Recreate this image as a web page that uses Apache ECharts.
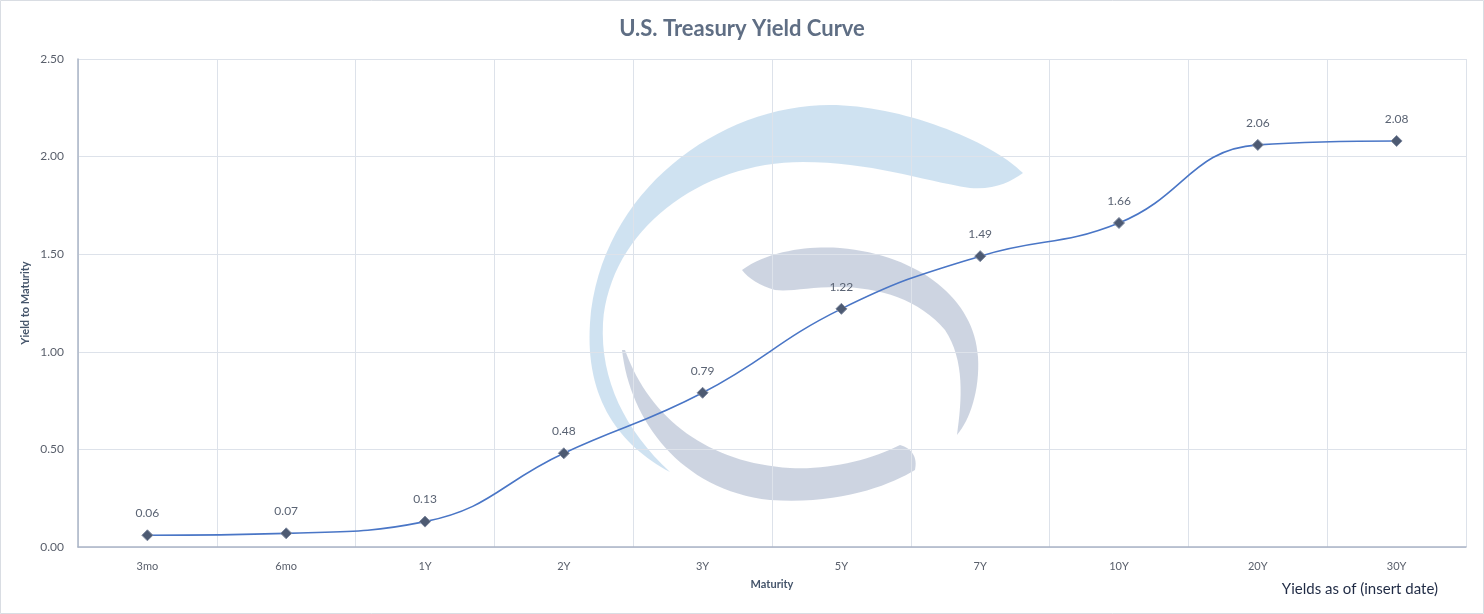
<!DOCTYPE html>
<html lang="en">
<head>
    <meta charset="utf-8">
    <title>U.S. Treasury Yield Curve</title>
    <script src="https://cdn.jsdelivr.net/npm/echarts@6/dist/echarts.min.js"></script>
    <style>
        html, body { margin: 0; padding: 0; background: #fff; }
        #chart { width: 1484px; height: 614px; }
    </style>
</head>
<body>
    <div id="chart"></div>
    <script>
        // data
        var maturities = ['3mo', '6mo', '1Y', '2Y', '3Y', '5Y', '7Y', '10Y', '20Y', '30Y'];
        var yields = [0.06, 0.07, 0.13, 0.48, 0.79, 1.22, 1.49, 1.66, 2.06, 2.08];
        var yMin = 0, yMax = 2.5, yStep = 0.5;

        var chart = echarts.init(document.getElementById('chart'));
        var font = 'Lato, "Open Sans", sans-serif';

        // background logo, drawn as an svg image
        var logoSvg =
            '<svg xmlns="http://www.w3.org/2000/svg" width="1484" height="614">' +
            '<path fill="#a0c6e4" fill-opacity="0.5" d="M1023 173 C990 140 900 105 830 105 C720 105 600 190 590 323 C585 400 620 445 670 472 C625 430 600 380 603 323 C610 230 700 162 803 162 C870 162 920 180 970 188 C995 190 1010 182 1023 173 Z"/>' +
            '<path fill="#9caac3" fill-opacity="0.5" d="M742 270 C770 250 810 246 840 248 C920 255 975 300 978 357 C980 390 970 420 957 435 C962 400 965 360 945 330 C920 300 880 287 837 287 C810 287 790 292 775 290 C760 286 748 278 742 270 Z"/>' +
            '<path fill="#9caac3" fill-opacity="0.5" d="M622 350 C630 420 680 490 770 500 C840 505 890 485 915 470 C918 458 912 448 900 445 C870 460 830 470 790 468 C710 463 650 420 625 350 Z"/>' +
            '</svg>';
        var logoUrl = 'data:image/svg+xml;charset=utf-8,' + encodeURIComponent(logoSvg);

        var option = {
            backgroundColor: '#fff',
            title: {
                text: 'U.S. Treasury Yield Curve',
                left: 'center',
                top: 13,
                textStyle: { fontFamily: font, fontSize: 22, fontWeight: 'bold', color: '#5f6e84' }
            },
            grid: { left: 78, right: 18, top: 59, bottom: 67 },
            graphic: [
                {
                    type: 'image', left: 0, top: 0, z: -5, silent: true,
                    style: { image: logoUrl, width: 1484, height: 614 }
                },
                {
                    type: 'rect', z: -10, silent: true,
                    shape: { x: 0.5, y: 0.5, width: 1483, height: 613 },
                    style: { fill: 'none', stroke: '#d9dde3', lineWidth: 1 }
                },
                {
                    type: 'text', right: 46, top: 582,
                    style: { text: 'Yields as of (insert date)', fontFamily: font, fontSize: 15, fill: '#1f2a44' }
                }
            ],
            xAxis: {
                type: 'category',
                data: maturities,
                boundaryGap: true,
                name: 'Maturity',
                nameLocation: 'middle',
                nameGap: 32,
                nameTextStyle: { fontFamily: font, fontSize: 11, fontWeight: 'bold', color: '#44546a' },
                axisLine: { lineStyle: { color: '#aab4c6', width: 1.5 } },
                axisTick: { show: false },
                axisLabel: { fontFamily: font, fontSize: 11, color: '#595f6b', margin: 14 },
                splitLine: { show: true, lineStyle: { color: '#dde2ea', width: 1 } }
            },
            yAxis: {
                type: 'value',
                min: yMin,
                max: yMax,
                interval: yStep,
                name: 'Yield to Maturity',
                nameLocation: 'middle',
                nameGap: 47,
                nameMoveOverlap: false,
                nameTextStyle: { fontFamily: font, fontSize: 11, fontWeight: 'bold', color: '#44546a' },
                axisLine: { show: true, lineStyle: { color: '#aab4c6', width: 1.5 } },
                axisTick: { show: false },
                axisLabel: {
                    fontFamily: font, fontSize: 12, color: '#595f6b', margin: 14,
                    formatter: function (v) { return v.toFixed(2); }
                },
                splitLine: { lineStyle: { color: '#dde2ea', width: 1 } }
            },
            series: [{
                type: 'line',
                data: yields,
                smooth: 0.45,
                symbol: 'diamond',
                symbolSize: 11,
                lineStyle: { color: '#4a76c6', width: 1.6 },
                itemStyle: { color: '#4d5a72', borderColor: '#7f8aa0', borderWidth: 1 },
                label: {
                    show: true,
                    position: 'top',
                    distance: 10,
                    fontFamily: font,
                    fontSize: 12,
                    color: '#5a6373',
                    formatter: function (p) { return p.value.toFixed(2); }
                },
                z: 3
            }]
        };
        chart.setOption(option);
    </script>
</body>
</html>
